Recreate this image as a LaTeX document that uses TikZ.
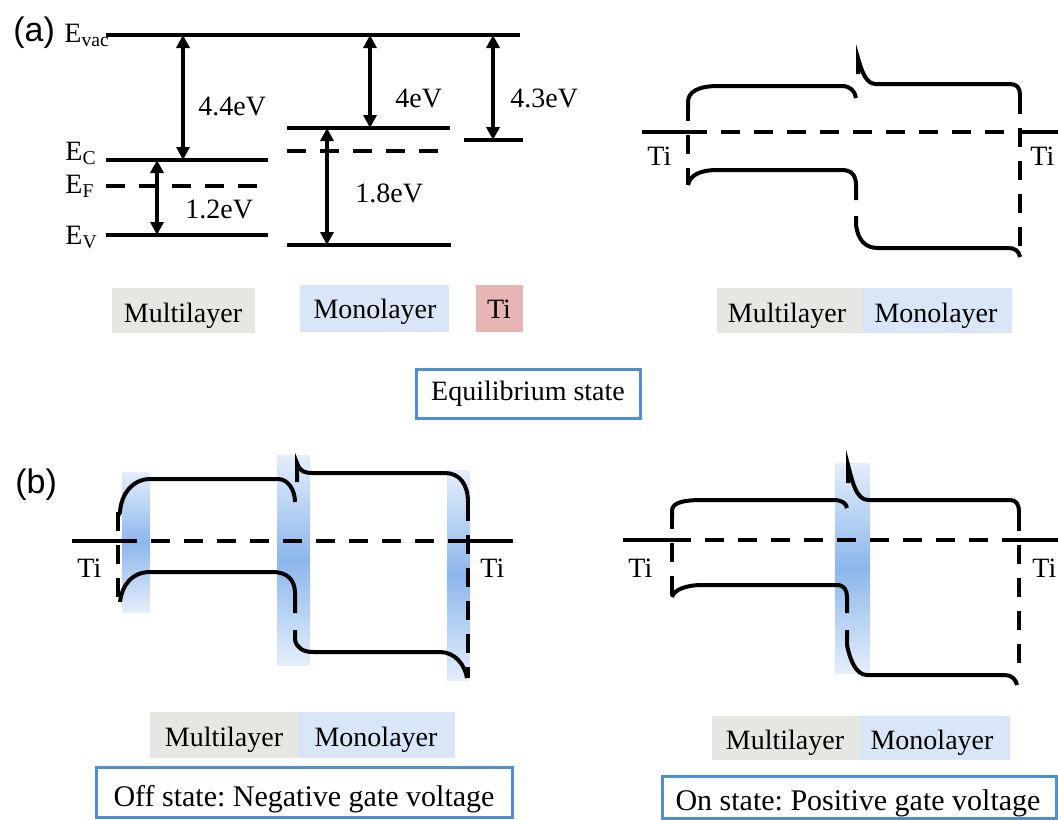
\documentclass[tikz,border=0pt]{standalone}
\usepackage{fontspec}
\setmainfont{Liberation Serif}
\newfontfamily\panelfont{Liberation Sans}
\usetikzlibrary{arrows.meta}
\frenchspacing

\definecolor{multigrey}{RGB}{230,230,226}
\definecolor{monoblue}{RGB}{216,230,247}
\definecolor{tipink}{RGB}{231,181,179}
\definecolor{frameblue}{RGB}{79,143,208}
\definecolor{shadeedge}{RGB}{228,238,251}
\definecolor{shademid}{RGB}{140,182,236}

\tikzset{
  lvl/.style={line width=2pt},
  fermi/.style={line width=2pt, dash pattern=on 9.5pt off 7pt},
  gaparrow/.style={line width=1.8pt, {Triangle[length=6.5pt,width=6.5pt]}-{Triangle[length=6.5pt,width=6.5pt]}},
  lbl/.style={font=\fontsize{14}{16}\selectfont, inner sep=0pt, anchor=base west},
  statelbl/.style={font=\fontsize{15}{18}\selectfont, inner sep=0pt, anchor=base},
  panellbl/.style={font=\panelfont\fontsize{17}{20}\selectfont, inner sep=0pt, anchor=base west},
  stateframe/.style={draw=frameblue, line width=1.5pt},
  barrier/.style={top color=shadeedge, bottom color=shadeedge, middle color=shademid},
}

\begin{document}
\begin{tikzpicture}[x=0.5pt, y=-0.5pt]
  \useasboundingbox (0,0) rectangle (1058,819);

  % (a) left: band alignment
  \node[panellbl] (pa) at (13,41) {(a)};
  \node[lbl] (evac) at (64,42) {E\textsubscript{vac}};
  \node[lbl] (ec) at (65,160) {E\textsubscript{C}};
  \node[lbl] (ef) at (65,193) {E\textsubscript{F}};
  \node[lbl] (ev) at (65,244) {E\textsubscript{V}};

  \draw[lvl] (106,35) -- (520,35);
  % multilayer
  \draw[lvl] (106,160) -- (268,160);
  \draw[fermi] (106,186) -- (257,186);
  \draw[lvl] (106,235) -- (268,235);
  % monolayer
  \draw[lvl] (287,128) -- (450,128);
  \draw[fermi] (287,151) -- (440,151);
  \draw[lvl] (287,245) -- (451,245);
  % Ti
  \draw[lvl] (464,140) -- (523,140);

  \coordinate (vacA) at (183,35);  \coordinate (ecA) at (183,160);
  \coordinate (ecB) at (157,160);  \coordinate (evB) at (157,235);
  \coordinate (vacC) at (370,35);  \coordinate (ecC) at (370,128);
  \coordinate (ecD) at (327,128);  \coordinate (evD) at (327,245);
  \coordinate (vacE) at (493,35);  \coordinate (tiE) at (493,140);
  \draw[gaparrow] (vacA) -- (ecA);
  \draw[gaparrow] (ecB) -- (evB);
  \draw[gaparrow] (vacC) -- (ecC);
  \draw[gaparrow] (ecD) -- (evD);
  \draw[gaparrow] (vacE) -- (tiE);

  \node[lbl] (gapA) at (198,115) {4.4eV};
  \node[lbl] (gapB) at (185,218) {1.2eV};
  \node[lbl] (gapC) at (395,107) {4eV};
  \node[lbl] (gapD) at (355,202) {1.8eV};
  \node[lbl] (gapE) at (510,107) {4.3eV};

  % legend
  \fill[multigrey] (112,288) rectangle (255,333);
  \fill[monoblue] (300,285) rectangle (449,332);
  \fill[tipink] (476,285) rectangle (523,332);
  \node[lbl, anchor=base] (mlA) at (183,322) {Multilayer};
  \node[lbl, anchor=base] (moA) at (375,318) {Monolayer};
  \node[lbl, anchor=base] (tiA) at (499,318) {Ti};

  % (a) right: equilibrium
  \draw[lvl] (642,132) -- (688,132);
  \draw[fermi] (688,132) -- (1020,132);
  \draw[lvl] (1020,132) -- (1058,132);
  \draw[fermi] (688,102) -- (688,185);
  \draw[fermi] (1020,95) -- (1020,257);
  \draw[lvl] (688,110) -- (688,102) .. controls (688,92) and (698,86) .. (718,86) -- (842,86)
    .. controls (850,86) and (855,91) .. (856,98);
  \draw[lvl] (858,74) -- (858,58) .. controls (862,72) and (866,84) .. (876,84) -- (1010,84)
    .. controls (1017,84) and (1020,88) .. (1020,95);
  \draw[lvl] (688,185) .. controls (690,175) and (700,170) .. (718,170) -- (842,170)
    .. controls (852,170) and (856,176) .. (856,185) -- (856,200);
  \draw[lvl] (856,216) -- (856,225) .. controls (858,240) and (865,248) .. (878,248) -- (1008,248)
    .. controls (1015,248) and (1019,251) .. (1020,257);

  \fill[multigrey] (717,288) rectangle (863,333);
  \fill[monoblue] (863,288) rectangle (1012,333);
  \node[lbl, anchor=base] (mlB) at (787,322) {Multilayer};
  \node[lbl, anchor=base] (moB) at (936,322) {Monolayer};

  \draw[stateframe] (416,369) rectangle (640,418);
  \node[lbl, anchor=base] (eq) at (528,400) {Equilibrium state};

  % (b) left: off state
  \node[panellbl] (pb) at (15,493) {(b)};
  \shade[barrier] (122,472) rectangle (150,612);
  \shade[barrier] (277,455) rectangle (310,665);
  \shade[barrier] (447,470) rectangle (470,680);
  \draw[lvl] (72,541) -- (118,541);
  \draw[fermi] (118,541) -- (468,541);
  \draw[lvl] (468,541) -- (513,541);
  \draw[fermi] (118,512) -- (118,602);
  \draw[fermi] (468,502) -- (468,678);
  \draw[lvl] (119,515) -- (120,512) .. controls (121,494) and (133,479) .. (150,479) -- (278,479)
    .. controls (288,479) and (295,490) .. (295,502);
  \draw[lvl] (297,482) -- (297,463) .. controls (300,472) and (305,473) .. (313,473) -- (445,473)
    .. controls (460,473) and (468,485) .. (468,502);
  \draw[lvl] (120,602) .. controls (122,585) and (132,572) .. (150,572) -- (273,572)
    .. controls (287,572) and (295,580) .. (295,593) -- (295,613);
  \draw[lvl] (295,630) -- (295,640) .. controls (297,648) and (303,652) .. (313,652) -- (440,652)
    .. controls (455,652) and (465,665) .. (467,678);

  \fill[multigrey] (150,712) rectangle (298,758);
  \fill[monoblue] (298,712) rectangle (455,758);
  \node[lbl, anchor=base] (mlC) at (224,746) {Multilayer};
  \node[lbl, anchor=base] (moC) at (376,746) {Monolayer};
  \draw[stateframe] (96,767) rectangle (512,817);
  \node[statelbl] (off) at (304,806) {Off state: Negative gate voltage};

  % (b) right: on state
  \shade[barrier] (835,463) rectangle (870,673);
  \draw[lvl] (623,540) -- (672,540);
  \draw[fermi] (672,540) -- (1019,540);
  \draw[lvl] (1019,540) -- (1058,540);
  \draw[fermi] (672,510) -- (672,597);
  \draw[fermi] (1019,512) -- (1019,670);
  \draw[lvl] (672,518) -- (672,510) .. controls (673,502) and (685,500) .. (703,500) -- (833,500)
    .. controls (842,500) and (846,503) .. (847,508);
  \draw[lvl] (848,483) -- (848,465) .. controls (852,480) and (856,500) .. (868,500) -- (1010,500)
    .. controls (1016,500) and (1019,504) .. (1019,512);
  \draw[lvl] (672,597) .. controls (674,590) and (685,585) .. (703,585) -- (837,585)
    .. controls (844,585) and (847,590) .. (847,597) -- (847,613);
  \draw[lvl] (847,630) -- (847,645) .. controls (850,660) and (856,675) .. (867,675) -- (1005,675)
    .. controls (1012,675) and (1016,680) .. (1017,685);

  \fill[multigrey] (712,716) rectangle (860,760);
  \fill[monoblue] (860,716) rectangle (1010,760);
  \node[lbl, anchor=base] (mlD) at (785,749) {Multilayer};
  \node[lbl, anchor=base] (moD) at (932,749) {Monolayer};
  \draw[stateframe] (662,776) rectangle (1056,818);
  \node[statelbl] (on) at (858,810) {On state: Positive gate voltage};

  % contact labels
  \foreach \x/\y [count=\i] in {647/165, 1030/165, 77/577, 480/577, 628/577, 1032/577}
    \node[lbl] (ti\i) at (\x,\y) {Ti};
\end{tikzpicture}
\end{document}
